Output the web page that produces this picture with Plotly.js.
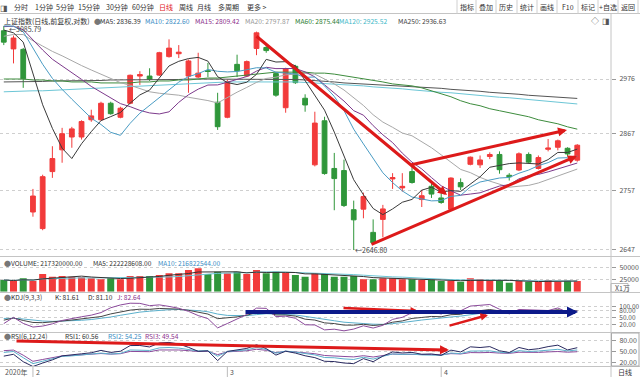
<!DOCTYPE html>
<html><head><meta charset="utf-8">
<script src="https://cdn.plot.ly/plotly-3.0.1.min.js"></script>
<style>html,body{margin:0;padding:0;background:#fff;}#chart{width:640px;height:377px;}</style>
</head><body><div id="chart"></div>
<script>
// ---------------- data ----------------
const dates = ['2020-01-21','2020-01-22','2020-01-23',
'2020-02-03','2020-02-04','2020-02-05','2020-02-06','2020-02-07','2020-02-10','2020-02-11','2020-02-12','2020-02-13','2020-02-14',
'2020-02-17','2020-02-18','2020-02-19','2020-02-20','2020-02-21','2020-02-24','2020-02-25','2020-02-26','2020-02-27','2020-02-28',
'2020-03-02','2020-03-03','2020-03-04','2020-03-05','2020-03-06','2020-03-09','2020-03-10','2020-03-11','2020-03-12','2020-03-13',
'2020-03-16','2020-03-17','2020-03-18','2020-03-19','2020-03-20','2020-03-23','2020-03-24','2020-03-25','2020-03-26','2020-03-27',
'2020-03-30','2020-03-31','2020-04-01','2020-04-02','2020-04-03','2020-04-07','2020-04-08','2020-04-09','2020-04-10',
'2020-04-13','2020-04-14','2020-04-15','2020-04-16','2020-04-17','2020-04-20','2020-04-21','2020-04-22'];
const opens = [3076,3038,3037,2716.7,2686,2793,2835,2860,2860,2894,2894,2927,2899,2927,2982,2982,2984,3022,3028,2982,2980,2993,2929,
2899,3006,2982,3039,3041,2987,2918,3002,2937,2806,2892,2799,2795,2721,2722,2679,2703,2779,2762,2793,2740,2765,2743,2722,2772,
2807,2806,2822,2826,2786,2796,2826,2799,2836,2840,2838,2815];
const highs = [3085.79,3066,3040,2760,2787,2842,2878,2880,2893,2914,2930,2930,2920,2985,2992,2998,3032,3058,3046,3016,3030,3009,2948,
2975,3026,3014,3074.26,3050,2990,2999,3005,2945,2910,2900,2829,2816,2738,2753,2703,2730,2790,2790,2808,2758,2771,2762,2782,2780,
2822,2824,2830,2832,2790,2830,2830,2824,2856,2855,2840,2846];
const lows = [3046,3008,2958,2708,2683,2781,2810,2839,2855,2890,2892,2904,2897,2925,2964,2972,2982,3020,3019,2948,2978,2980,2874,
2897,2980,2980,3025,3030,2940,2908,2966,2910,2803,2787,2720,2726,2646.8,2705,2658,2670,2760,2755,2770,2726,2743,2732,2720,2758,
2805,2800,2817,2789,2776,2794,2809,2797,2832,2834,2822,2812];
const closes = [3052.14,3060.75,2976.53,2746.61,2783.29,2818.09,2866.51,2875.96,2890.49,2901.67,2926.90,2906.07,2917.01,
2983.62,2984.97,2975.40,3030.15,3039.67,3031.23,3013.05,2987.93,2991.33,2880.30,
2970.93,2992.90,3011.67,3071.68,3034.51,2943.29,2996.76,2968.52,2923.49,2887.43,2789.25,2779.64,2728.76,2702.13,2745.62,
2660.17,2722.44,2781.59,2764.91,2772.20,2747.21,2750.30,
2734.52,2780.64,2763.99,2820.76,2815.37,2825.90,2796.63,2783.05,2827.28,2811.17,2819.94,2838.49,2852.55,2827.01,2843.98];
const volumes = [23900,21800,27300,21800,36100,30700,32000,30700,29300,27300,25200,27300,25200,32000,32000,32000,34100,37500,37500,
44300,47700,36100,40900,37500,40900,36100,44300,37500,40900,38800,34100,30700,37500,36100,30700,30700,32000,25200,25200,27300,
27300,25200,25200,23900,23900,21800,21800,20500,27300,25200,22500,22500,18400,21800,20500,20500,23900,20500,22500,21732];
const priorCloses = [2982.68,2981.88,3007.35,3005.04,3040.02,3050.12,3085.20,3083.79,3083.41,3104.80,3066.89,3094.88,3092.29,
3115.57,3106.82,3090.04,3074.08,3075.50,3095.79];
const ma60 = [2976,2976,2976,2974,2974,2972,2972,2970,2970,2970,2968,2968,2968,2968,2970,2970,2972,2972,2974,2974,2976,2978,2978,
2980,2982,2984,2986,2988,2990,2990,2990,2990,2988,2988,2986,2983,2980,2977,2974,2970,2966,2964,2962,2958,2952,2946,2940,2932,
2926,2922,2916,2912,2908,2904,2900,2894,2890,2886,2880,2875.44];
const ma120 = [2950,2951,2951,2952,2952,2953,2953,2954,2955,2956,2957,2958,2959,2960,2961,2962,2963,2964,2966,2967,2968,2969,2969,
2970,2970,2970,2971,2971,2971,2970,2970,2969,2968,2967,2966,2965,2963,2962,2960,2959,2957,2956,2954,2952,2951,2949,2948,2946,
2944,2943,2941,2939,2938,2936,2934,2932,2931,2929,2927,2925.52];
const ma250 = [2970,2970,2971,2971,2971,2972,2972,2972,2973,2973,2973,2974,2974,2974,2974,2975,2975,2975,2975,2976,2976,2976,2976,
2976,2976,2976,2976,2976,2976,2975,2975,2974,2973,2971,2970,2968,2967,2966,2964,2963,2962,2961,2960,2959,2958,2957,2955,2954,
2952,2951,2949,2948,2946,2945,2943,2942,2940,2939,2938,2936.63];
const priceTicks = [2647, 2757, 2867, 2976];
const volTicks = [25000, 50000];
const kdjTicks = [20, 50, 80, 100];
const rsiTicks = [20, 50, 80];
const monthStarts = ['2020-02-03','2020-03-02','2020-04-01'];
const monthLabels = ['2','3','4'];

// ---------------- indicators (derived from the series) ----------------
function movingAvg(series, n, skip){
  const out=[];
  for(let i=skip;i<series.length;i++){const s=Math.max(0,i-n+1);let sum=0;for(let k=s;k<=i;k++)sum+=series[k];out.push(sum/(i-s+1));}
  return out;
}
const allCloses = priorCloses.concat(closes);
const skip = priorCloses.length;
const ma5 = movingAvg(allCloses,5,skip), ma10 = movingAvg(allCloses,10,skip),
      ma15 = movingAvg(allCloses,15,skip), ma20 = movingAvg(allCloses,20,skip);
const vma5 = movingAvg(volumes,5,0), vma10 = movingAvg(volumes,10,0);

const kArr=[],dArr=[],jArr=[];
(function(){let K=50,D=50;
  for(let i=0;i<closes.length;i++){const s=Math.max(0,i-8);let hh=-Infinity,ll=Infinity;
    for(let k=s;k<=i;k++){hh=Math.max(hh,highs[k]);ll=Math.min(ll,lows[k]);}
    const rsv=(closes[i]-ll)/(hh-ll)*100;K=(2*K+rsv)/3;D=(2*D+K)/3;kArr.push(K);dArr.push(D);jArr.push(3*K-2*D);}
})();
function rsi(n){const out=[];let su=null,sa=null;
  for(let t=1;t<allCloses.length;t++){const d=allCloses[t]-allCloses[t-1];const up=Math.max(d,0),ab=Math.abs(d);
    if(su===null){su=up;sa=ab;}else{su=(up+(n-1)*su)/n;sa=(ab+(n-1)*sa)/n;}
    if(t>=skip) out.push(sa===0?50:su/sa*100);}
  return out;}
const rsi1=rsi(6),rsi2=rsi(12),rsi3=rsi(24);

// ---------------- layout helpers ----------------
const W=640,H=377,PW=611;
const px=x=>x/PW, py=y=>(H-y)/H;
const FONT='"Noto Sans CJK SC","Noto Sans",sans-serif';
const RED='#f23b3b', GREEN='#2f963a';
const volColors = closes.map((c,i)=>c>=opens[i]?RED:GREEN);

function line(y, color, width, name, ax){
  return {type:'scatter',mode:'lines',x:dates,y:y,yaxis:ax,line:{color:color,width:width||1},hoverinfo:'skip',name:name};
}
const traces = [
  {type:'candlestick',x:dates,open:opens,high:highs,low:lows,close:closes,yaxis:'y',
   increasing:{line:{color:RED,width:1},fillcolor:RED},decreasing:{line:{color:GREEN,width:1},fillcolor:GREEN},
   whiskerwidth:0,hoverinfo:'skip'},
  line(ma250,'#555555',1,'MA250','y'),
  line(ma120,'#6cc6d6',1,'MA120','y'),
  line(ma60,'#3d8c3d',1,'MA60','y'),
  line(ma20,'#a8a8a8',1,'MA20','y'),
  line(ma15,'#7d3a8c',1,'MA15','y'),
  line(ma10,'#4a9cc4',1,'MA10','y'),
  line(ma5,'#3a3a3a',1,'MA5','y'),
  {type:'bar',x:dates,y:volumes,yaxis:'y2',marker:{color:volColors,line:{width:0}},width:0.72,hoverinfo:'skip'},
  line(vma10,'#6cc6d6',1,'VMA10','y2'),
  line(vma5,'#333333',1,'VMA5','y2'),
  line(dArr,'#5bb0cc',1,'D','y3'),
  line(kArr,'#444444',1,'K','y3'),
  line(jArr,'#8b4a9b',1,'J','y3'),
  line(rsi3,'#8b4a9b',1,'RSI3','y4'),
  line(rsi2,'#5bb0cc',1,'RSI2','y4'),
  line(rsi1,'#2a2a60',1,'RSI1','y4')
];

function yax(domTop, domBot, range, ticks, text, type, fs){
  return {domain:[py(domBot),py(domTop)],range:range,type:type||'linear',side:'right',anchor:'x',
    tickvals:ticks,ticktext:text,showgrid:true,gridcolor:'#cfcfcf',griddash:'dot',gridwidth:1,
    ticks:'outside',ticklen:4,tickcolor:'#999',ticklabelstandoff:2,
    tickfont:{family:FONT,size:fs||7,color:'#555'},zeroline:false,showline:false,fixedrange:true};
}
const pTop=25, pBot=256;
const priceAt = y => 2976*Math.exp((79-y)/1459);

const ann=[];
function txt(t,x,y,opt){opt=opt||{};ann.push({text:t,x:px(x),y:py(y),xref:'paper',yref:'paper',showarrow:false,
  xanchor:opt.anchor||'left',yanchor:'middle',font:{family:FONT,size:opt.size||7,color:opt.color||'#333'}});}
function arrow(x0,y0,x1,y1,color,width,size){ann.push({text:'',x:px(x1),y:py(y1),xref:'paper',yref:'paper',
  ax:x0-x1,ay:y0-y1,axref:'pixel',ayref:'pixel',showarrow:true,arrowhead:2,arrowsize:size||0.7,arrowwidth:width,
  arrowcolor:color,standoff:0,startstandoff:0});}

// toolbar
txt('◨',4,7,{anchor:'center',color:'#555',size:8});
[['分时',21],['1分钟',44],['5分钟',65],['15分钟',89],['30分钟',117],['60分钟',143],['日线',166,'#e02020'],
 ['周线',186],['月线',204],['多周期',228],['更多 >',257]].forEach(a=>txt(a[0],a[1],7,{anchor:'center',color:a[2]||'#333'}));
[['指标',466.5],['叠加',486],['历史',506],['统计',527],['画线',547],['F10',567.5],['标记',588],['+自选',608],['返回',628]]
 .forEach(a=>txt(a[0],a[1],7,{anchor:'center'}));
// info row
txt('上证指数(日线,前复权,对数)',2,20.5);
txt('●',92,20.5,{color:'#777'});
txt('MA5: 2836.39',98,20.5,{color:'#333',size:6.7});
txt('MA10: 2822.60',143,20.5,{color:'#3a8cc4',size:6.7});
txt('MA15: 2809.42',193,20.5,{color:'#8b2f8b',size:6.7});
txt('MA20: 2797.87',243,20.5,{color:'#999',size:6.7});
txt('MA60: 2875.44',293,20.5,{color:'#2e7d32',size:6.7});
txt('MA120: 2925.52',337,20.5,{color:'#3fb8c8',size:6.7});
txt('MA250: 2936.63',396,20.5,{color:'#444',size:6.7});
txt('◇',595,20.5,{anchor:'center',color:'#555',size:8});
txt('◨',606,20.5,{anchor:'center',color:'#555',size:8});
// extremes
txt('←3085.79',7,29,{color:'#444'});
txt('←2646.80',353,250,{color:'#444'});
// panel headers
const HS=6.6;
txt('●',2,262.5,{color:'#777'}); txt('VOLUME: 217320000.00',9,262.5,{size:HS}); txt('MA5: 222228608.00',91,262.5,{size:HS});
txt('MA10: 216822544.00',156,262.5,{color:'#3a8cc4',size:HS});
txt('●',2,296.5,{color:'#777'}); txt('KDJ(9,3,3)',9,296.5,{size:HS}); txt('K: 81.61',53,296.5,{size:HS});
txt('D: 81.10',86,296.5,{size:HS}); txt('J: 82.64',115,296.5,{color:'#8b2f8b',size:HS});
txt('●',2,336,{color:'#777'}); txt('RSI(6,12,24)',9,336,{size:HS}); txt('RSI1: 60.56',63,336,{size:HS});
txt('RSI2: 54.25',106,336,{color:'#3a8cc4',size:HS}); txt('RSI3: 49.54',143,336,{color:'#8b2f8b',size:HS});
txt('X1万',613,288,{color:'#555'});
txt('日线',625,372,{anchor:'center',color:'#333'});
txt('2020年',3,372,{color:'#555'});
monthStarts.forEach((d,i)=>ann.push({text:monthLabels[i],x:d,xref:'x',y:py(372),yref:'paper',xanchor:'left',
  xshift:1,yanchor:'middle',showarrow:false,font:{family:FONT,size:7,color:'#555'}}));
// hand-drawn trend arrows
arrow(255,35,447,195,'#dd1a1a',3,0.6);
arrow(410,165,567,130,'#dd1a1a',3,0.6);
arrow(370,245,577,156,'#dd1a1a',3,0.6);
arrow(342,308,418,311,'#dd1a1a',2.5,0.6);
arrow(244,312,578,312,'#0c1a8a',4,0.55);
arrow(448,326,488,315,'#dd1a1a',2.5,0.6);
arrow(15,341,449,350,'#dd1a1a',3,0.6);

const shapes=[];
function hl(y,x0,x1,c){shapes.push({type:'line',xref:'paper',yref:'paper',x0:px(x0),x1:px(x1),y0:py(y),y1:py(y),line:{color:c||'#c4c4c4',width:1}});}
function vl(x,y0,y1,c){shapes.push({type:'line',xref:'paper',yref:'paper',x0:px(x),x1:px(x),y0:py(y0),y1:py(y1),line:{color:c||'#c4c4c4',width:1}});}
hl(13.5,0,640); hl(256.5,0,640); hl(292.5,0,640); hl(332.5,0,640); hl(366.5,0,640);
vl(611,13.5,377);
[457,476,496,517,537,557,578,598,618,638].forEach(x=>vl(x,0,13.5,'#d0d0d0'));
shapes.push({type:'rect',xref:'paper',yref:'paper',x0:px(611),x1:px(628),y0:py(292),y1:py(283.5),line:{color:'#bbb',width:1}});
shapes.push({type:'rect',xref:'paper',yref:'paper',x0:px(611.5),x1:px(639),y0:py(366),y1:py(333),line:{color:'#aaa',width:1}});
monthStarts.forEach(d=>shapes.push({type:'line',xref:'x',yref:'paper',x0:d,x1:d,y0:py(366.5),y1:py(377),line:{color:'#bbb',width:1}}));

const layout = {
  width:W,height:H,margin:{l:0,r:W-PW,t:0,b:0,pad:0},paper_bgcolor:'#fff',plot_bgcolor:'#fff',showlegend:false,
  font:{family:FONT,size:7,color:'#333'},
  xaxis:{type:'category',range:[-0.39,62.47],anchor:'y4',showticklabels:false,showgrid:false,zeroline:false,
    showline:false,ticks:'',rangeslider:{visible:false},fixedrange:true},
  yaxis: yax(pTop,pBot,[Math.log10(priceAt(pBot)),Math.log10(priceAt(pTop))],priceTicks,priceTicks.map(String),'log'),
  yaxis2: yax(264,291.7,[0,56530],volTicks,volTicks.map(String)),
  yaxis3: yax(300,333,[-19.4,129.3],kdjTicks,kdjTicks.map(v=>v.toFixed(2)),'linear',6.5),
  yaxis4: yax(336,366.5,[8.3,93.1],rsiTicks,rsiTicks.map(v=>v.toFixed(2))),
  annotations:ann,shapes:shapes,bargap:0.28
};
Plotly.newPlot('chart',traces,layout,{staticPlot:true,displayModeBar:false});
</script></body></html>
